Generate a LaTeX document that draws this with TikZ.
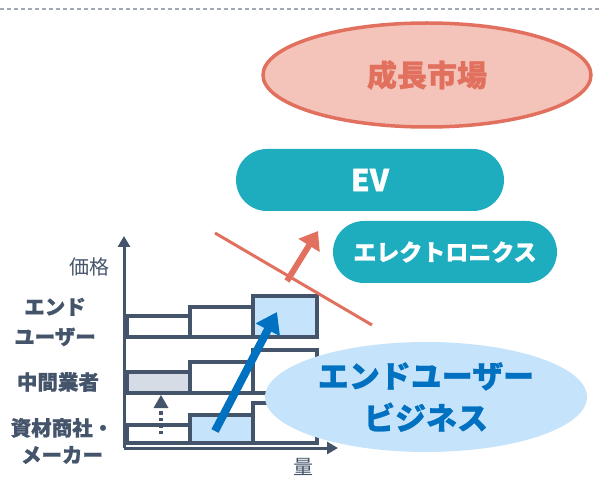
\documentclass[tikz,border=0pt]{standalone}
\usepackage{fontspec}
\setmainfont{Noto Sans CJK JP}[BoldFeatures={FakeBold=0.8}]
\usetikzlibrary{arrows.meta,shapes.geometric,positioning}
\definecolor{slate}{HTML}{44546A}
\definecolor{coral}{HTML}{E2705E}
\definecolor{salmon}{HTML}{F4C4BA}
\definecolor{teal}{HTML}{1EADBE}
\definecolor{paleblue}{HTML}{C5E3FA}
\definecolor{deepblue}{HTML}{0070C0}
\definecolor{palegray}{HTML}{D6DCE5}
\tikzset{
  bar/.style={draw=slate, line width=3.5pt, fill=white},
  pill/.style={fill=teal, rounded corners=31pt, text=white, font=\bfseries},
  axislabel/.style={text=slate, font=\fontsize{20}{24}\selectfont, align=center},
  rowlabel/.style={text=slate, font=\fontsize{20.5}{27}\selectfont\bfseries, align=center}
}
\begin{document}
\begin{tikzpicture}[x=1pt,y=-1pt]
\useasboundingbox (0,0) rectangle (600,481);
\draw[dashed, dash pattern=on 4pt off 3pt, color=slate!50, line width=1.2pt] (0,9) -- (600,9);% top rule

\node[ellipse, draw=coral, line width=3.5pt, fill=salmon, minimum width=328pt, minimum height=104pt,
      text=coral, font=\fontsize{30}{36}\selectfont\bfseries] (Growth) at (427,75) {成長市場};
\node[pill, minimum width=268pt, minimum height=62pt, font=\fontsize{30}{36}\selectfont\bfseries] (EV) at (370,180) {EV};
\node[pill, minimum width=224pt, minimum height=62pt, font=\fontsize{23}{28}\selectfont\bfseries] (Elec) at (445,252) {エレクトロニクス};

% axes
\coordinate (Origin)   at (124,448);
\coordinate (YAxisMax) at (124,236);
\coordinate (XAxisMax) at (338,448);
\draw[slate, line width=3pt, -{Triangle[length=11pt,width=12pt]}] (Origin) -- (YAxisMax);
\draw[slate, line width=3pt, -{Triangle[length=11pt,width=12pt]}] (Origin) -- (XAxisMax);
\node[axislabel] (Price) at (89,267) {価格};
\node[axislabel] (Volume) at (303,467) {量};

% rows
\draw[bar] (127,316) rectangle (190,337);
\draw[bar] (190,307) rectangle (253,337);
\draw[bar, fill=paleblue] (253,296) rectangle (317,337);
\draw[bar, fill=palegray] (127,372) rectangle (190,393);
\draw[bar] (190,362) rectangle (253,393);
\draw[bar] (253,350) rectangle (317,393);
\draw[bar] (127,425) rectangle (190,443);
\draw[bar, fill=paleblue] (190,415) rectangle (253,443);
\draw[bar] (253,403) rectangle (317,443);

\node[rowlabel, font=\fontsize{20.5}{30}\selectfont\bfseries] (EndUser) at (55,322) {エンド\\ユーザー};
\node[rowlabel] (Middle) at (58,382) {中間業者};
\node[rowlabel] (Maker) at (62,441) {資材商社・\\メーカー};

% dotted step up
\coordinate (DotFrom) at (161,434);
\coordinate (DotTo)   at (161,395);
\draw[slate, line width=3.5pt, dash pattern=on 3.5pt off 3pt, -{Triangle[length=13pt,width=15pt,line width=0pt,sep=0pt]}] (DotFrom) -- (DotTo);

% blue climb
\coordinate (ClimbFrom) at (215,431);
\coordinate (ClimbTo)   at (277,312);
\draw[deepblue, line width=8pt, -{Triangle[length=20pt,width=26pt]}] (ClimbFrom) -- (ClimbTo);

% coral line and arrow
\coordinate (LineA) at (215,233);
\coordinate (LineB) at (372,325);
\draw[coral, line width=3pt] (LineA) -- (LineB);
\coordinate (PushFrom) at (287,281);
\coordinate (PushTo)   at (318,231);
\draw[coral, line width=6pt, -{Triangle[length=17pt,width=24pt]}] (PushFrom) -- (PushTo);

\node[ellipse, fill=paleblue, minimum width=322pt, minimum height=110pt, text=deepblue,
      font=\fontsize{31}{42}\selectfont\bfseries, align=center] (Business) at (426,397) {エンドユーザー\\ビジネス};
\end{tikzpicture}
\end{document}
